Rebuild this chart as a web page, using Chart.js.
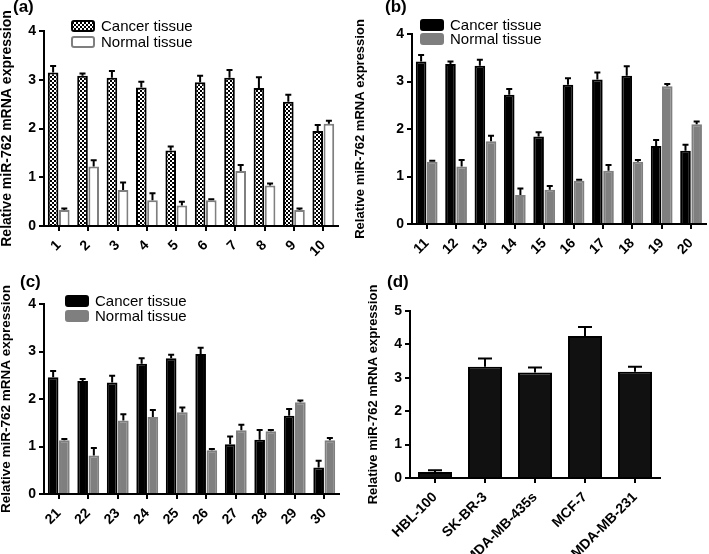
<!DOCTYPE html>
<html lang="en">
<head>
<meta charset="UTF-8">
<title>miR-762 expression</title>
<script src="https://cdn.jsdelivr.net/npm/chart.js"></script>
<style>
    body { margin: 0; background: #fff; }
    #wrap { position: relative; width: 709px; height: 554px; overflow: hidden; }
    canvas { position: absolute; }
    .tag {
        position: absolute;
        font: bold 17px 'Liberation Sans', Arial, sans-serif;
        line-height: 17px;
        color: #000;
    }
</style>
</head>
<body>
<div id="wrap">
    <canvas id="ca" width="354" height="275" style="left:0;top:0"></canvas>
    <canvas id="cb" width="355" height="275" style="left:354px;top:0"></canvas>
    <canvas id="cc" width="354" height="279" style="left:0;top:275px"></canvas>
    <canvas id="cd" width="355" height="279" style="left:354px;top:275px"></canvas>
    <div class="tag" style="left:13px;top:-2px">(a)</div>
    <div class="tag" style="left:385px;top:-2px">(b)</div>
    <div class="tag" style="left:20px;top:273px">(c)</div>
    <div class="tag" style="left:387px;top:273px">(d)</div>
</div>
<script>
// samples 1-30, three panels of ten
const samplesA = ['1', '2', '3', '4', '5', '6', '7', '8', '9', '10'];
const cancerA = [3.15, 3.08, 3.04, 2.84, 1.55, 2.95, 3.04, 2.83, 2.55, 1.95];
const cancerErrA = [0.13, 0.05, 0.14, 0.12, 0.08, 0.13, 0.16, 0.22, 0.14, 0.12];
const normalA = [0.33, 1.22, 0.74, 0.53, 0.42, 0.53, 1.13, 0.83, 0.33, 2.10];
const normalErrA = [0.03, 0.13, 0.15, 0.14, 0.08, 0.02, 0.12, 0.04, 0.03, 0.06];

const samplesB = ['11', '12', '13', '14', '15', '16', '17', '18', '19', '20'];
const cancerB = [3.42, 3.37, 3.33, 2.72, 1.84, 2.93, 3.04, 3.12, 1.64, 1.54];
const cancerErrB = [0.14, 0.05, 0.13, 0.12, 0.09, 0.14, 0.15, 0.20, 0.13, 0.13];
const normalB = [1.31, 1.21, 1.74, 0.61, 0.72, 0.91, 1.12, 1.31, 2.90, 2.10];
const normalErrB = [0.02, 0.14, 0.12, 0.14, 0.08, 0.02, 0.12, 0.04, 0.05, 0.06];

const samplesC = ['21', '22', '23', '24', '25', '26', '27', '28', '29', '30'];
const cancerC = [2.46, 2.38, 2.35, 2.74, 2.86, 2.95, 1.05, 1.14, 1.65, 0.56];
const cancerErrC = [0.13, 0.04, 0.14, 0.12, 0.07, 0.13, 0.16, 0.21, 0.14, 0.14];
const normalC = [1.13, 0.81, 1.55, 1.62, 1.72, 0.92, 1.34, 1.32, 1.93, 1.13];
const normalErrC = [0.03, 0.16, 0.13, 0.15, 0.10, 0.03, 0.12, 0.03, 0.04, 0.05];

// cell lines
const cellLines = ['HBL-100', 'SK-BR-3', 'MDA-MB-435s', 'MCF-7', 'MDA-MB-231'];
const cellValues = [0.18, 3.33, 3.16, 4.25, 3.18];
const cellErr = [0.05, 0.25, 0.15, 0.27, 0.15];

const yTitle = 'Relative miR-762 mRNA expression';
const FONT = "'Liberation Sans', Arial, sans-serif";
const GRAY = '#7f7f7f';

// checkered fill for panel (a)
function checker() {
    const c = document.createElement('canvas');
    c.width = 4; c.height = 4;
    const g = c.getContext('2d');
    g.fillStyle = '#000';
    g.fillRect(0, 0, 4, 4);
    g.fillStyle = '#fff';
    g.fillRect(0, 0, 2, 2);
    g.fillRect(2, 2, 2, 2);
    return g.createPattern(c, 'repeat');
}

// one-sided (upper) error bars
const errorBars = {
    id: 'errorBars',
    afterDatasetsDraw(chart) {
        const ctx = chart.ctx;
        const y = chart.scales.y;
        const cap = chart.options.plugins.errorBars.cap;
        ctx.save();
        ctx.strokeStyle = '#000';
        ctx.lineWidth = 2;
        chart.data.datasets.forEach((ds, i) => {
            chart.getDatasetMeta(i).data.forEach((bar, j) => {
                const top = y.getPixelForValue(ds.data[j] + ds.errors[j]);
                ctx.beginPath();
                ctx.moveTo(bar.x, bar.y);
                ctx.lineTo(bar.x, top);
                ctx.moveTo(bar.x - cap / 2, top);
                ctx.lineTo(bar.x + cap / 2, top);
                ctx.stroke();
            });
        });
        ctx.restore();
    }
};

// legend boxes drawn at a fixed spot
const boxLegend = {
    id: 'boxLegend',
    afterDraw(chart) {
        const o = chart.options.plugins.boxLegend;
        if (!o || !o.show) return;
        const ctx = chart.ctx;
        ctx.save();
        ctx.font = '15px ' + FONT;
        ctx.textBaseline = 'middle';
        chart.data.datasets.forEach((ds, i) => {
            const cy = o.y + i * o.dy;
            ctx.fillStyle = ds.backgroundColor;
            ctx.strokeStyle = ds.borderColor;
            ctx.lineWidth = 2;
            ctx.beginPath();
            ctx.roundRect(o.x + 1, cy - 5, 22, 10, 2);
            ctx.fill();
            ctx.stroke();
            ctx.fillStyle = '#000';
            ctx.fillText(ds.label, o.x + 30, cy + 1);
        });
        ctx.restore();
    }
};

function makeChart(id, labels, datasets, opt) {
    return new Chart(document.getElementById(id), {
        type: 'bar',
        data: { labels: labels, datasets: datasets },
        plugins: [errorBars, boxLegend],
        options: {
            responsive: false,
            animation: false,
            layout: { padding: { top: opt.top, right: opt.right, left: 0, bottom: 0 } },
            plugins: {
                legend: { display: false },
                tooltip: { enabled: false },
                errorBars: { cap: opt.cap },
                boxLegend: opt.legend
            },
            scales: {
                x: {
                    offset: true,
                    afterFit(s) { s.height = opt.xh; },
                    border: { color: '#000', width: 2 },
                    grid: { offset: false, drawOnChartArea: false, color: '#000', lineWidth: 2, tickLength: 5 },
                    ticks: {
                        color: '#000', maxRotation: 45, minRotation: 45, padding: 6,
                        font: { family: FONT, size: 14, weight: 'bold' }
                    }
                },
                y: {
                    min: 0, max: opt.ymax,
                    afterFit(s) { s.width = opt.yw; },
                    border: { color: '#000', width: 2 },
                    grid: { drawOnChartArea: false, color: '#000', lineWidth: 2, tickLength: 5 },
                    ticks: {
                        stepSize: 1, color: '#000', padding: 3,
                        font: { family: FONT, size: 14, weight: 'bold' }
                    },
                    title: {
                        display: true, text: yTitle, color: '#000',
                        padding: { top: opt.tpad, bottom: 0 },
                        font: { family: FONT, size: opt.tsize, weight: 'bold', lineHeight: 1 }
                    }
                }
            },
            datasets: {
                bar: {
                    categoryPercentage: opt.cat, barPercentage: opt.bar,
                    borderWidth: 2, borderSkipped: 'start'
                }
            }
        }
    });
}

const pat = checker();

makeChart('ca', samplesA, [
    { label: 'Cancer tissue', data: cancerA, errors: cancerErrA, backgroundColor: pat, borderColor: '#000' },
    { label: 'Normal tissue', data: normalA, errors: normalErrA, backgroundColor: '#fff', borderColor: GRAY }
], { top: 31, right: 16, xh: 49, yw: 44, ymax: 4, cap: 6, cat: 0.76, bar: 0.95, tsize: 14, tpad: 0,
     legend: { show: true, x: 71, y: 26, dy: 16 } });

makeChart('cb', samplesB, [
    { label: 'Cancer tissue', data: cancerB, errors: cancerErrB, backgroundColor: '#000', borderColor: '#000' },
    { label: 'Normal tissue', data: normalB, errors: normalErrB, backgroundColor: GRAY, borderColor: GRAY }
], { top: 34, right: 1, xh: 51, yw: 58, ymax: 4, cap: 6, cat: 0.76, bar: 0.95, tsize: 13, tpad: 0,
     legend: { show: true, x: 66, y: 25, dy: 14 } });

makeChart('cc', samplesC, [
    { label: 'Cancer tissue', data: cancerC, errors: cancerErrC, backgroundColor: '#000', borderColor: '#000' },
    { label: 'Normal tissue', data: normalC, errors: normalErrC, backgroundColor: GRAY, borderColor: GRAY }
], { top: 29, right: 15, xh: 60, yw: 44, ymax: 4, cap: 6, cat: 0.76, bar: 0.95, tsize: 13.5, tpad: 0,
     legend: { show: true, x: 65, y: 26, dy: 15 } });

makeChart('cd', cellLines, [
    { label: 'Cell lines', data: cellValues, errors: cellErr, backgroundColor: '#111', borderColor: '#000' }
], { top: 36, right: 49, xh: 76, yw: 56, ymax: 5, cap: 14, cat: 1, bar: 0.68, tsize: 13, tpad: 13,
     legend: { show: false } });
</script>
</body>
</html>
